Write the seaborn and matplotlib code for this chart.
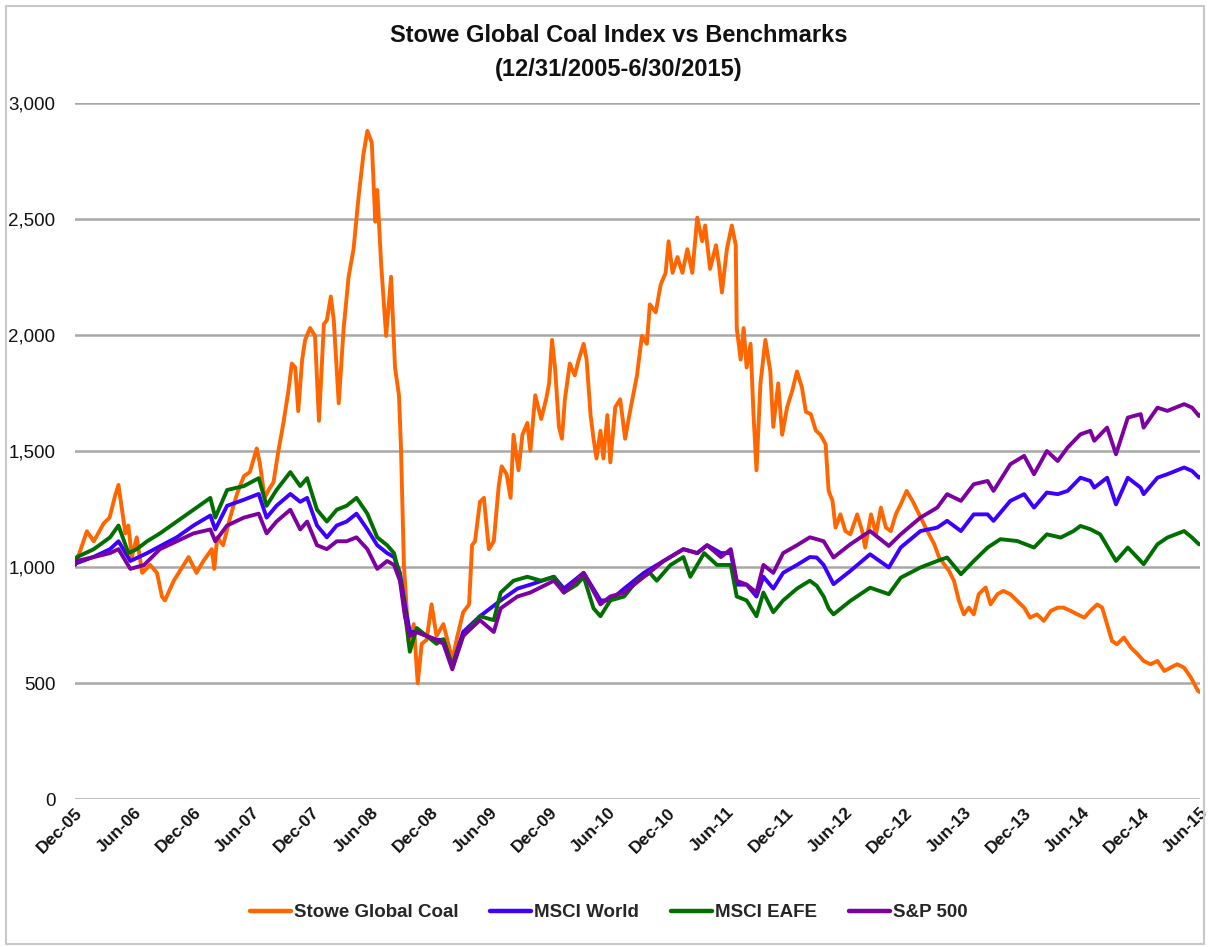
import pandas as pd
import seaborn as sns
import matplotlib.pyplot as plt
import matplotlib.dates as mdates
from matplotlib.patches import Rectangle
from matplotlib.ticker import FuncFormatter

# months after 12/31/2005, index values
coal_months = [0.0, 0.6, 1.2, 1.9, 2.9, 3.5, 4.05, 4.4, 5.1, 5.4, 5.75, 6.25, 6.8, 7.6, 8.3, 8.8, 9.1,
               10.0, 11.0, 11.5, 12.3, 13.0, 13.85, 14.1, 14.4, 15.0, 15.7, 16.4, 17.1, 17.7, 18.4,
               18.7, 19.2, 19.6, 20.1, 20.6, 21.1, 21.6, 21.95, 22.3, 22.6, 23.0, 23.3, 23.8, 24.3,
               24.7, 25.2, 25.5, 25.9, 26.2, 26.7, 27.2, 27.7, 28.2, 28.7, 29.2, 29.6, 30.05, 30.4,
               30.6, 31.0, 31.5, 32.0, 32.4, 32.8, 33.0, 33.3, 33.8, 34.3, 34.7, 35.1, 35.6, 36.1,
               36.6, 37.3, 38.0, 38.2, 38.7, 39.3, 39.9, 40.2, 40.5, 41.0, 41.4, 41.9, 42.4, 42.9,
               43.2, 43.7, 44.1, 44.4, 44.9, 45.3, 45.8, 46.1, 46.6, 47.2, 47.7, 48.0, 48.3, 48.6,
               49.0, 49.3, 49.6, 50.1, 50.6, 51.0, 51.5, 51.8, 52.2, 52.5, 52.8, 53.2, 53.5, 53.9,
               54.2, 54.7, 55.2, 55.7, 56.2, 56.9, 57.4, 57.9, 58.2, 58.8, 59.3, 59.8, 60.1, 60.5,
               61.0, 61.5, 62.0, 62.5, 63.0, 63.5, 63.8, 64.3, 64.9, 65.2, 65.5, 66.0, 66.5, 66.9,
               67.0, 67.4, 67.7, 68.0, 68.4, 68.7, 69.0, 69.4, 69.9, 70.4, 70.7, 71.2, 71.6, 72.1,
               72.6, 73.1, 73.6, 74.0, 74.5, 75.0, 75.5, 76.0, 76.3, 76.7, 77.0, 77.5, 78.0, 78.5,
               79.2, 79.7, 80.0, 80.6, 81.1, 81.6, 82.1, 82.6, 83.1, 83.6, 84.2, 84.8, 85.3, 85.8,
               86.3, 87.0, 87.5, 88.0, 88.5, 89.0, 89.5, 90.0, 90.5, 91.0, 91.5, 92.2, 92.7, 93.4,
               94.0, 94.7, 95.4, 96.1, 96.7, 97.4, 98.1, 98.8, 99.5, 100.1, 100.8, 101.5, 102.2,
               102.8, 103.5, 104.0, 104.5, 105.0, 105.5, 106.2, 106.9, 107.6, 108.2, 108.9, 109.6,
               110.3, 110.9, 111.6, 112.3, 113.0, 113.7, 114.0]
coal_values = [1010, 1080, 1155, 1112, 1189, 1214, 1307, 1355, 1146, 1180, 1044, 1129, 976, 1010, 976, 874, 857,
               942, 1010, 1044, 976, 1027, 1078, 993, 1129, 1095, 1214, 1316, 1393, 1410, 1512,
               1452, 1299, 1333, 1367, 1503, 1622, 1759, 1878, 1861, 1673, 1895, 1980, 2031, 1997,
               1631, 2048, 2065, 2167, 2065, 1707, 2031, 2252, 2371, 2592, 2779, 2881, 2830, 2490,
               2626, 2303, 1997, 2252, 1861, 1741, 1520, 1010, 670, 755, 500, 670, 687, 840,
               704, 755, 636, 600, 700, 806, 840, 1095, 1112, 1282, 1299, 1078, 1112, 1350,
               1435, 1401, 1299, 1571, 1418, 1571, 1622, 1503, 1741, 1639, 1724, 1792, 1980, 1861,
               1605, 1554, 1724, 1878, 1827, 1895, 1963, 1895, 1656, 1554, 1469, 1588, 1469, 1656,
               1452, 1690, 1724, 1554, 1673, 1827, 1997, 1963, 2133, 2099, 2218, 2269, 2405, 2269,
               2337, 2269, 2371, 2269, 2507, 2405, 2473, 2286, 2388, 2303, 2184, 2371, 2473, 2388,
               2031, 1895, 2031, 1861, 1963, 1656, 1418, 1792, 1980, 1844, 1605, 1792, 1571, 1690,
               1758, 1844, 1775, 1670, 1660, 1590, 1570, 1530, 1330, 1286, 1171, 1228, 1156, 1142,
               1228, 1156, 1085, 1228, 1142, 1257, 1171, 1156, 1228, 1271, 1329, 1286, 1243, 1200,
               1156, 1099, 1042, 1013, 984, 941, 855, 797, 826, 797, 884, 913, 840, 884,
               898, 884, 855, 826, 783, 797, 769, 812, 826, 826, 812, 797, 783,
               812, 840, 826, 754, 682, 668, 697, 654, 625, 596, 582, 596,
               553, 567, 582, 567, 524, 467, 460]

world_months = [0.0, 1.9, 3.55, 4.4, 5.6, 7.3, 10.3, 12.0, 13.7, 14.2, 15.4, 17.1, 18.6, 19.4, 20.4, 21.8,
                22.8, 23.5, 24.5, 25.5, 26.5, 27.5, 28.5, 29.6, 30.6, 31.6, 32.3, 32.9, 33.4, 33.9,
                34.6, 35.6, 36.6, 37.3, 38.2, 39.3, 41.0, 43.1, 44.8, 46.1, 48.5, 49.5, 51.5, 53.2,
                54.2, 55.6, 57.6, 59.6, 61.6, 63.0, 64.0, 65.4, 66.4, 67.0, 68.0, 69.0, 69.7, 70.7,
                71.7, 73.1, 74.4, 75.1, 75.8, 76.8, 78.5, 80.5, 82.4, 83.6, 85.6, 87.3, 88.3, 89.7,
                91.0, 92.4, 93.0, 94.7, 96.1, 97.1, 98.4, 99.5, 100.5, 101.8, 102.8, 103.2, 104.5,
                105.4, 106.6, 107.9, 108.2, 109.6, 110.6, 112.3, 113.1, 113.8, 114.0]
world_values = [1015, 1045, 1078, 1112, 1027, 1061, 1129, 1180, 1223, 1163, 1265, 1291, 1316, 1214, 1265, 1316,
                1282, 1299, 1180, 1129, 1180, 1197, 1231, 1163, 1095, 1061, 1044, 976, 840, 721,
                721, 704, 687, 687, 575, 721, 789, 857, 908, 925, 959, 908, 976, 857,
                857, 908, 976, 1027, 1078, 1061, 1095, 1061, 1061, 925, 925, 874, 959, 908,
                976, 1010, 1044, 1042, 1010, 927, 984, 1056, 999, 1085, 1156, 1171, 1200, 1156,
                1228, 1228, 1200, 1286, 1315, 1257, 1322, 1315, 1329, 1386, 1372, 1343, 1386,
                1271, 1386, 1343, 1315, 1386, 1401, 1430, 1415, 1386, 1390]

eafe_months = [0.0, 0.2, 1.9, 3.55, 4.4, 5.4, 6.25, 7.3, 8.6, 10.3, 12.0, 13.7, 14.2, 15.4, 17.1, 18.6,
               19.4, 20.4, 21.8, 22.8, 23.5, 24.5, 25.5, 26.5, 27.5, 28.5, 29.6, 30.6, 31.6, 32.3,
               32.9, 33.4, 33.9, 34.6, 35.6, 36.6, 37.3, 38.2, 39.3, 41.0, 42.4, 43.1, 44.4, 45.8,
               47.2, 48.5, 49.5, 50.8, 51.5, 52.5, 53.2, 54.2, 55.6, 56.9, 58.2, 58.9, 60.3, 61.6,
               62.3, 63.7, 65.0, 66.4, 67.0, 68.0, 69.0, 69.7, 70.7, 71.7, 73.1, 74.4, 75.1, 75.8,
               76.3, 76.8, 78.5, 80.5, 82.4, 83.6, 85.6, 87.3, 88.3, 89.7, 91.0, 92.4, 93.7, 95.4,
               97.1, 98.4, 99.8, 101.1, 101.8, 102.8, 103.8, 105.4, 106.6, 107.9, 108.2, 109.6,
               110.6, 112.3, 113.1, 113.8, 114.0]
eafe_values = [1020, 1044, 1078, 1129, 1180, 1061, 1078, 1112, 1146, 1197, 1248, 1299, 1214, 1333, 1350, 1384,
               1265, 1333, 1410, 1350, 1384, 1248, 1197, 1248, 1265, 1299, 1231, 1129, 1095, 1061,
               959, 806, 636, 738, 704, 670, 690, 570, 704, 789, 772, 891, 942, 959,
               942, 959, 891, 925, 959, 823, 789, 857, 874, 942, 976, 942, 1010, 1044,
               959, 1061, 1010, 1010, 874, 857, 789, 891, 806, 857, 908, 942, 920, 874,
               823, 797, 855, 912, 884, 955, 999, 1027, 1042, 970, 1027, 1085, 1121, 1113,
               1085, 1142, 1128, 1156, 1178, 1164, 1142, 1027, 1085, 1027, 1013, 1099,
               1128, 1156, 1128, 1099, 1100]

sp_months = [0.0, 0.17, 1.9, 3.55, 4.4, 5.6, 7.0, 8.6, 10.3, 12.0, 13.7, 14.2, 15.4, 17.1, 18.6, 19.4,
             20.4, 21.8, 22.8, 23.5, 24.5, 25.5, 26.5, 27.5, 28.5, 29.6, 30.6, 31.6, 32.3, 32.9,
             33.4, 33.9, 34.6, 35.6, 36.6, 37.3, 38.2, 39.3, 41.0, 42.4, 43.1, 44.8, 46.1, 48.5,
             49.5, 51.5, 53.2, 54.2, 55.6, 57.6, 59.6, 61.6, 63.0, 64.0, 65.4, 66.4, 67.0, 68.0,
             69.0, 69.7, 70.7, 71.7, 73.1, 74.4, 75.1, 75.8, 76.8, 78.5, 80.5, 82.4, 83.6, 85.6,
             87.3, 88.3, 89.7, 91.0, 92.4, 93.0, 94.7, 96.1, 97.1, 98.4, 99.5, 100.5, 101.8,
             102.8, 103.2, 104.5, 105.4, 106.6, 107.9, 108.2, 109.6, 110.6, 112.3, 113.1, 113.8, 114.0]
sp_values = [1010, 1027, 1044, 1061, 1078, 993, 1010, 1078, 1112, 1146, 1163, 1112, 1180, 1214, 1231, 1146,
             1197, 1248, 1163, 1197, 1095, 1078, 1112, 1112, 1129, 1078, 993, 1027, 1010, 942,
             789, 704, 721, 704, 687, 670, 560, 704, 772, 721, 823, 874, 891, 942,
             891, 976, 840, 874, 891, 959, 1027, 1078, 1061, 1095, 1044, 1078, 942, 925,
             891, 1010, 976, 1061, 1095, 1129, 1121, 1112, 1042, 1099, 1156, 1092, 1142, 1214,
             1257, 1315, 1286, 1358, 1372, 1329, 1444, 1480, 1401, 1501, 1458, 1516, 1573,
             1588, 1545, 1602, 1487, 1645, 1660, 1602, 1688, 1674, 1703, 1688, 1652, 1660]

series_names = ['Stowe Global Coal', 'MSCI World', 'MSCI EAFE', 'S&P 500']
series_colors = ['#FF6600', '#3D00FF', '#006E00', '#7D00A0']

start_date = pd.Timestamp('2005-12-31')


def to_frame(name, months, values):
    dates = [start_date + pd.Timedelta(days=m * 30.4375) for m in months]
    return pd.DataFrame({'date': dates, 'value': values, 'series': name})


df = pd.concat([
    to_frame(series_names[0], coal_months, coal_values),
    to_frame(series_names[1], world_months, world_values),
    to_frame(series_names[2], eafe_months, eafe_values),
    to_frame(series_names[3], sp_months, sp_values),
], ignore_index=True)

sns.set_theme(style='white')
plt.rcParams['font.family'] = ['Liberation Sans', 'DejaVu Sans']

fig = plt.figure(figsize=(12.1, 9.47), dpi=100)
ax = fig.add_axes([0.062, 0.156, 0.930, 0.735])

sns.lineplot(data=df, x='date', y='value', hue='series', hue_order=series_names,
             palette=dict(zip(series_names, series_colors)), linewidth=2.8,
             estimator=None, sort=False, ax=ax, legend=False)

# axes
ticks = pd.date_range('2005-12-31', periods=20, freq=pd.offsets.MonthEnd(6))
ax.set_xlim(ticks[0], ticks[-1])
ax.set_xticks(ticks)
ax.xaxis.set_major_formatter(mdates.DateFormatter('%b-%y'))
ax.set_ylim(0, 3000)
ax.set_yticks(range(0, 3001, 500))
ax.yaxis.set_major_formatter(FuncFormatter(lambda v, p: f'{v:,.0f}'))
ax.grid(axis='y', color='#A8A8A8', linewidth=1.8)
ax.grid(axis='x', visible=False)
for s in ax.spines.values():
    s.set_visible(False)
ax.set_xlabel('')
ax.set_ylabel('')
ax.tick_params(axis='y', length=0, pad=14, labelsize=13.5, labelcolor='#111111')
ax.tick_params(axis='x', length=0, pad=4, labelsize=12.5, labelcolor='#111111')
plt.setp(ax.get_xticklabels(), rotation=45, ha='right', rotation_mode='anchor', fontweight='bold')

# legend
handles = [plt.Line2D([], [], color=c, linewidth=3.2) for c in series_colors]
fig.legend(handles, series_names, loc='center', bbox_to_anchor=(0.503, 0.036), ncol=4,
           frameon=False, prop={'weight': 'bold', 'size': 13.5}, handlelength=2.2,
           handletextpad=0.15, columnspacing=1.7)

fig.text(0.511, 0.963, 'Stowe Global Coal Index vs Benchmarks', ha='center', va='center',
         fontsize=17, fontweight='bold', color='#111111')
fig.text(0.511, 0.927, '(12/31/2005-6/30/2015)', ha='center', va='center',
         fontsize=17, fontweight='bold', color='#111111')

fig.patches.append(Rectangle((0.005, 0.003), 0.99, 0.991, transform=fig.transFigure,
                             fill=False, edgecolor='#C8C8C8', linewidth=1.5))

fig.savefig('out.png', dpi=100)
